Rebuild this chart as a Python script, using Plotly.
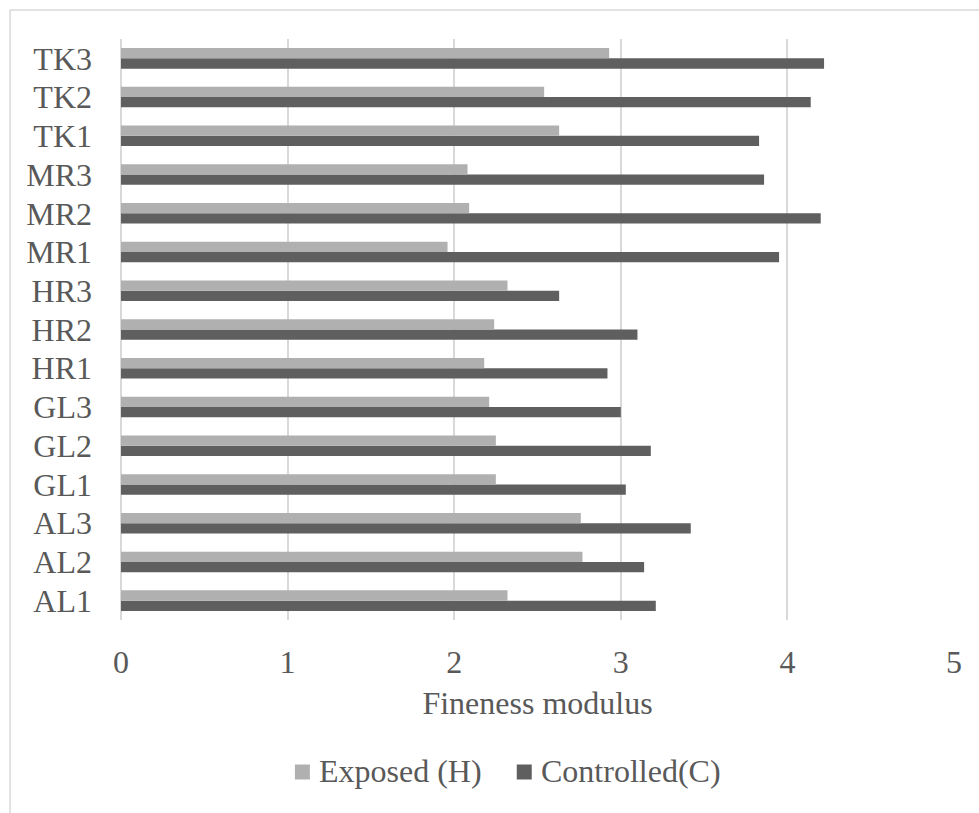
import plotly.graph_objects as go

# Sample sites, bottom to top
categories = ["AL1", "AL2", "AL3", "GL1", "GL2", "GL3", "HR1", "HR2", "HR3",
              "MR1", "MR2", "MR3", "TK1", "TK2", "TK3"]

# Fineness modulus per site
exposed = [2.32, 2.77, 2.76, 2.25, 2.25, 2.21, 2.18, 2.24, 2.32,
           1.96, 2.09, 2.08, 2.63, 2.54, 2.93]
controlled = [3.21, 3.14, 3.42, 3.03, 3.18, 3.00, 2.92, 3.10, 2.63,
              3.95, 4.20, 3.86, 3.83, 4.14, 4.22]

x_ticks = [0, 1, 2, 3, 4, 5]

FONT = "Liberation Serif, Times New Roman, serif"
TEXT = "#595959"
GRID = "#d9d9d9"
C_EXP = "#b0b0b0"
C_CTL = "#5f5f5f"
FS = 32

fig = go.Figure()
# Controlled first so it sits below Exposed within each group
fig.add_trace(go.Bar(
    y=categories, x=controlled, orientation="h", name="Controlled(C)",
    marker=dict(color=C_CTL, line=dict(width=0)), showlegend=False,
))
fig.add_trace(go.Bar(
    y=categories, x=exposed, orientation="h", name="Exposed (H)",
    marker=dict(color=C_EXP, line=dict(width=0)), showlegend=False,
))

W, H = 979, 813
L, R, T, B = 121, 24.5, 39, 193
pw, ph = W - L - R, H - T - B


def px_x(p):
    return (p - L) / pw


def px_y(p):
    return (H - B - p) / ph


# Legend drawn as swatches + labels below the axis title
legend_items = [("Exposed (H)", C_EXP, 295), ("Controlled(C)", C_CTL, 517)]
legend_y = 771
shapes = [dict(
    type="rect", xref="paper", yref="paper",
    x0=px_x(10), x1=px_x(1100), y0=px_y(10), y1=px_y(900),
    line=dict(color=GRID, width=1.5), fillcolor="rgba(0,0,0,0)",
    layer="below",
)]
annotations = []
for label, color, x0 in legend_items:
    shapes.append(dict(
        type="rect", xref="paper", yref="paper",
        x0=px_x(x0), x1=px_x(x0 + 15),
        y0=px_y(legend_y + 1 - 7.5), y1=px_y(legend_y + 1 + 7.5),
        line=dict(width=0), fillcolor=color,
    ))
    annotations.append(dict(
        text=label, xref="paper", yref="paper",
        x=px_x(x0 + 22), y=px_y(legend_y), xanchor="left", yanchor="middle",
        showarrow=False, font=dict(family=FONT, color=TEXT, size=FS),
    ))

fig.update_layout(
    width=W, height=H,
    margin=dict(l=L, r=R, t=T, b=B, autoexpand=False),
    paper_bgcolor="white", plot_bgcolor="white",
    barmode="group", bargap=0.47, bargroupgap=0,
    font=dict(family=FONT, color=TEXT, size=FS),
    showlegend=False,
    xaxis=dict(
        range=[0, 5], tickvals=x_ticks, ticktext=[str(v) for v in x_ticks],
        showgrid=True, gridcolor=GRID, gridwidth=1.5,
        zeroline=True, zerolinecolor=GRID, zerolinewidth=1.5,
        showline=False, ticks="", ticklabelstandoff=20,
        tickfont=dict(family=FONT, color=TEXT, size=FS),
        title=dict(text="Fineness modulus", standoff=12,
                   font=dict(family=FONT, color=TEXT, size=FS)),
        automargin=False, fixedrange=True,
    ),
    yaxis=dict(
        categoryorder="array", categoryarray=categories,
        showgrid=False, zeroline=False, showline=False, ticks="",
        ticklabelstandoff=28,
        tickfont=dict(family=FONT, color=TEXT, size=FS),
        automargin=False, fixedrange=True,
    ),
    shapes=shapes,
    annotations=annotations,
)

fig.write_html("out.html", config={"displayModeBar": False})
